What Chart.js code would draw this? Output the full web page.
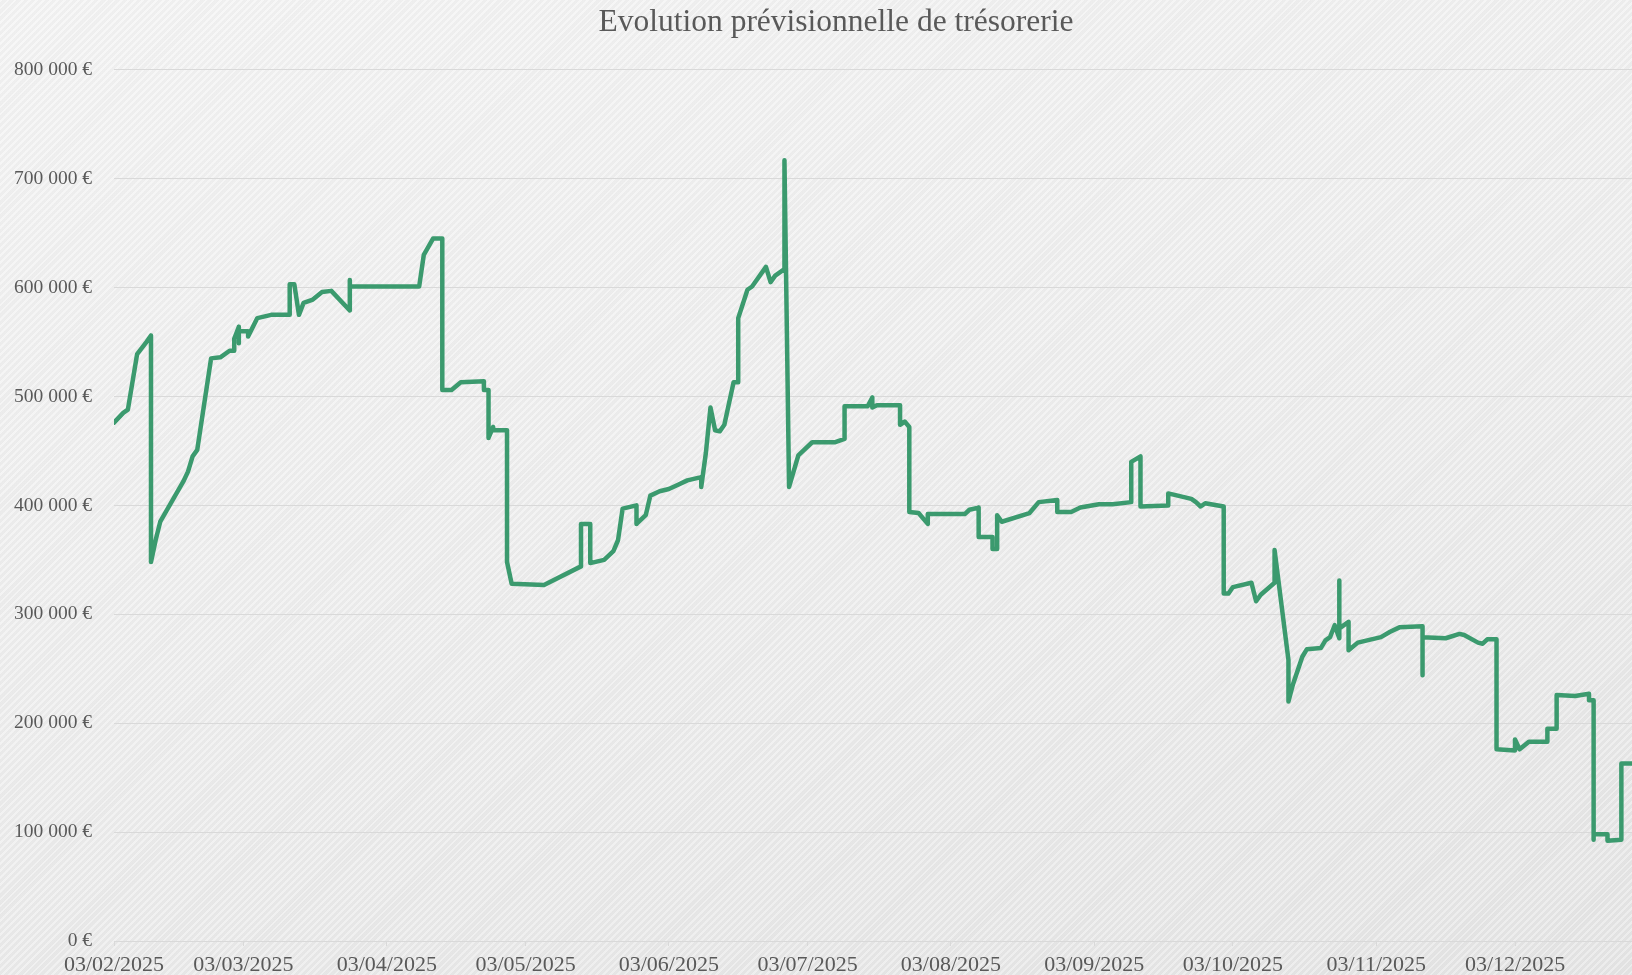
<!DOCTYPE html>
<html lang="fr">
<head>
<meta charset="utf-8">
<title>Evolution prévisionnelle de trésorerie</title>
<script src="https://cdn.jsdelivr.net/npm/chart.js@4.4.1/dist/chart.umd.min.js"></script>
<style>
  html, body { margin: 0; padding: 0; overflow: hidden; }
  body {
    width: 1632px;
    height: 975px;
    background:
      repeating-linear-gradient(135deg, rgba(255,255,255,0.25) 0 2px, rgba(0,0,0,0.018) 2px 5px),
      linear-gradient(165deg, #f4f4f4 0%, #eeeeee 55%, #e6e6e6 100%);
  }
  #cadre { position: relative; width: 1632px; height: 975px; }
</style>
</head>
<body>
<div id="cadre"><canvas id="graphique"></canvas></div>
<script>
const titre = 'Evolution prévisionnelle de trésorerie';
const annee = 2025;

// dates des mouvements (jj/mm) et solde de trésorerie correspondant
const dates = [
  '03/02', '05/02', '06/02', '08/02', '10/02', '11/02', '11/02', '12/02', '13/02', '18/02',
  '19/02', '20/02', '21/02', '24/02', '26/02', '28/02', '01/03', '01/03', '02/03', '02/03',
  '02/03', '04/03', '04/03', '06/03', '09/03', '13/03', '13/03', '14/03', '15/03', '16/03',
  '18/03', '20/03', '22/03', '26/03', '26/03', '26/03', '10/04', '11/04', '13/04', '15/04',
  '15/04', '17/04', '19/04', '24/04', '24/04', '25/04', '25/04', '26/04', '26/04', '29/04',
  '29/04', '30/04', '07/05', '15/05', '15/05', '17/05', '17/05', '20/05', '22/05', '23/05',
  '24/05', '27/05', '27/05', '29/05', '30/05', '01/06', '03/06', '05/06', '07/06', '10/06',
  '10/06', '11/06', '12/06', '13/06', '14/06', '15/06', '17/06', '18/06', '18/06', '20/06',
  '21/06', '24/06', '25/06', '26/06', '28/06', '28/06', '29/06', '01/07', '04/07', '09/07',
  '11/07', '11/07', '16/07', '17/07', '17/07', '18/07', '23/07', '23/07', '24/07', '25/07',
  '25/07', '27/07', '29/07', '29/07', '06/08', '07/08', '09/08', '09/08', '12/08', '12/08',
  '13/08', '13/08', '14/08', '20/08', '22/08', '26/08', '26/08', '29/08', '31/08', '04/09',
  '07/09', '11/09', '11/09', '13/09', '13/09', '19/09', '19/09', '24/09', '25/09', '26/09',
  '27/09', '01/10', '01/10', '02/10', '03/10', '07/10', '08/10', '09/10', '12/10', '12/10',
  '15/10', '15/10', '16/10', '18/10', '19/10', '22/10', '23/10', '24/10', '25/10', '26/10',
  '26/10', '26/10', '28/10', '28/10', '30/10', '04/11', '06/11', '08/11', '13/11', '13/11',
  '13/11', '18/11', '21/11', '22/11', '25/11', '26/11', '27/11', '29/11', '29/11', '03/12',
  '03/12', '04/12', '06/12', '10/12', '10/12', '12/12', '12/12', '16/12', '19/12', '19/12',
  '20/12', '20/12', '20/12', '23/12', '23/12', '26/12', '26/12', '29/12'
];

const tresorerie = [
  476000, 485000, 488000, 539000, 550000, 556000, 348000, 368000, 385000, 422000,
  431000, 445000, 451000, 535000, 536000, 542000, 542000, 553000, 564000, 549000,
  560000, 560000, 555000, 572000, 575000, 575000, 603000, 603000, 575000, 586000,
  589000, 596000, 597000, 579000, 607000, 601000, 601000, 630000, 645000, 645000,
  506000, 506000, 513000, 514000, 506000, 506000, 462000, 472000, 469000, 469000,
  348000, 328000, 327000, 344000, 383000, 383000, 347000, 350000, 358000, 368000,
  397000, 400000, 383000, 391000, 409000, 413000, 415000, 419000, 423000, 426000,
  417000, 448000, 490000, 469000, 468000, 474000, 513000, 513000, 572000, 598000,
  601000, 619000, 605000, 611000, 617000, 717000, 417000, 446000, 458000, 458000,
  461000, 491000, 491000, 499000, 490000, 492000, 492000, 474000, 477000, 472000,
  394000, 393000, 383000, 392000, 392000, 396000, 398000, 371000, 371000, 360000,
  360000, 391000, 385000, 393000, 403000, 405000, 394000, 394000, 398000, 401000,
  401000, 403000, 440000, 445000, 399000, 400000, 411000, 406000, 403000, 399000,
  402000, 399000, 319000, 319000, 325000, 329000, 312000, 318000, 329000, 359000,
  258000, 220000, 236000, 261000, 268000, 269000, 276000, 279000, 290000, 278000,
  331000, 287000, 293000, 267000, 274000, 279000, 284000, 288000, 289000, 244000,
  279000, 278000, 282000, 281000, 274000, 273000, 277000, 277000, 176000, 175000,
  185000, 176000, 183000, 183000, 195000, 195000, 226000, 225000, 227000, 221000,
  221000, 93000, 98000, 98000, 92000, 93000, 163000, 163000
];

const moisTicks = [
  '03/02/2025', '03/03/2025', '03/04/2025', '03/05/2025', '03/06/2025', '03/07/2025',
  '03/08/2025', '03/09/2025', '03/10/2025', '03/11/2025', '03/12/2025'
];

const debut = Date.UTC(annee, 1, 3);

function jour(txt) {
  const p = txt.split('/');
  const a = p[2] ? parseInt(p[2]) : annee;
  return (Date.UTC(a, parseInt(p[1]) - 1, parseInt(p[0])) - debut) / 86400000;
}

function formatEuro(v) {
  const s = Math.round(v).toString().replace(/\B(?=(\d{3})+(?!\d))/g, ' ');
  return s + ' €';
}

const points = dates.map((d, i) => ({ x: jour(d), y: tresorerie[i] }));

const police = "'Liberation Serif', 'Times New Roman', serif";
const gris = '#595959';
const grille = '#d9d9d9';

// le titre est centré un peu à droite du milieu de l'image
const decalageTitre = {
  id: 'decalageTitre',
  afterLayout(chart) {
    if (chart.titleBlock) chart.titleBlock.left += 40;
  }
};

const ctx = document.getElementById('graphique').getContext('2d');
const chart = new Chart(ctx, {
  type: 'line',
  data: {
    datasets: [{
      label: 'Trésorerie',
      data: points,
      borderColor: '#3b9a6e',
      borderWidth: 4.5,
      borderJoinStyle: 'round',
      borderCapStyle: 'round',
      pointRadius: 0,
      tension: 0,
      fill: false
    }]
  },
  options: {
    responsive: true,
    maintainAspectRatio: false,
    animation: false,
    layout: { padding: { left: 0, right: 0, top: 0, bottom: 0 } },
    plugins: {
      legend: { display: false },
      tooltip: { enabled: false },
      title: {
        display: true,
        text: titre,
        color: gris,
        font: { family: police, size: 31.5, weight: 'normal', lineHeight: 1.2 },
        padding: { top: 4, bottom: 28 }
      }
    },
    scales: {
      x: {
        type: 'linear',
        min: 0,
        max: jour('28/12') + 0.3,
        afterBuildTicks: scale => {
          scale.ticks = moisTicks.map(t => ({ value: jour(t) }));
        },
        afterFit: scale => { scale.height = 34; },
        grid: {
          drawOnChartArea: false,
          drawTicks: true,
          tickLength: 5,
          color: grille
        },
        border: { display: true, color: grille },
        ticks: {
          color: gris,
          font: { family: police, size: 22, lineHeight: 1 },
          padding: 8,
          maxRotation: 0,
          autoSkip: false,
          callback: (v, i) => moisTicks[i]
        }
      },
      y: {
        min: 0,
        max: 800000,
        afterFit: scale => { scale.width = 114; },
        grid: { color: grille, lineWidth: 1, drawTicks: false },
        border: { display: false },
        ticks: {
          stepSize: 100000,
          color: gris,
          font: { family: police, size: 19.5 },
          padding: 22,
          callback: v => formatEuro(v)
        }
      }
    }
  },
  plugins: [decalageTitre]
});
</script>
</body>
</html>
